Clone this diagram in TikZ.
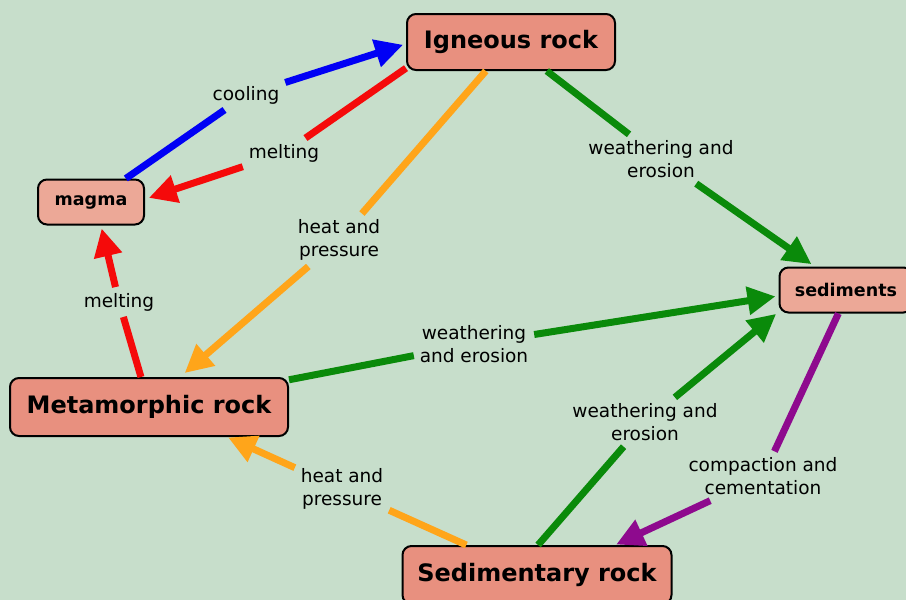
\documentclass[tikz,border=0pt]{standalone}
\usepackage{fontspec}
\setmainfont{DejaVu Sans}
\usetikzlibrary{arrows.meta}
\definecolor{bg}{HTML}{C7DECB}
\definecolor{boxA}{HTML}{E8907F}
\definecolor{boxB}{HTML}{ECA897}
\definecolor{cblue}{HTML}{0000F5}
\definecolor{cred}{HTML}{F50A0A}
\definecolor{corange}{HTML}{FFA51A}
\definecolor{cgreen}{HTML}{0A8A0A}
\definecolor{cpurple}{HTML}{8E0A8E}
\begin{document}
\begin{tikzpicture}[x=1pt,y=-1pt,
  rock/.style={draw=black, line width=2pt, rounded corners=9pt, fill=boxA, inner sep=0pt,
    font=\fontsize{24}{28}\selectfont\bfseries},
  smallrock/.style={rock, fill=boxB, font=\fontsize{17.5}{20}\selectfont\bfseries},
  seg/.style={line width=7pt},
  conn/.style={line width=7pt, -{Triangle[length=28pt,width=27pt]}},
  lbl/.style={inner sep=2pt, outer sep=4pt, align=center, font=\fontsize{18.5}{23}\selectfont}]
\fill[bg] (0,0) rectangle (906,600);
\useasboundingbox (0,0) rectangle (906,600);

\node[rock, minimum width=208pt, minimum height=56pt] (ign) at (511,42) {Igneous rock};
\node[smallrock, minimum width=106pt, minimum height=45pt] (magma) at (91,202) {magma};
\node[rock, minimum width=278pt, minimum height=58pt] (meta) at (149,407) {Metamorphic rock};
\node[rock, minimum width=269pt, minimum height=58pt] (sr) at (537,575) {Sedimentary rock};
\node[smallrock, minimum width=133pt, minimum height=45pt] (sed) at (846,290) {sediments};

\node[lbl] (l1) at (246,95) {cooling};
\node[lbl] (l2) at (284,153) {melting};
\node[lbl] (l3) at (339,240) {heat and\\pressure};
\node[lbl] (l4) at (661,159) {weathering and\\erosion};
\node[lbl] (l5) at (119,302) {melting};
\node[lbl] (l6) at (474,344) {weathering\\and erosion};
\node[lbl] (l7) at (645,422) {weathering and\\erosion};
\node[lbl] (l8) at (763,476) {compaction and\\cementation};
\node[lbl] (l9) at (342,489) {heat and\\pressure};

\draw[seg, cblue] (magma.34) -- (l1);
\draw[conn, cblue, shorten >=3pt] (l1) -- (ign.181);
\draw[seg, cred] (ign.194) -- (l2);
\draw[conn, cred, shorten >=4pt] (l2) -- (magma.3);
\draw[seg, corange] (ign.229) -- (l3);
\draw[conn, corange, shorten >=6pt] (l3) -- (meta.44);
\draw[seg, cgreen] (ign.321) -- (l4);
\draw[conn, cgreen, shorten >=4pt] (l4) -- (sed.143);
\draw[seg, cred] (meta.105) -- (l5);
\draw[conn, cred, shorten >=3pt] (l5) -- (magma.293);
\draw[seg, cgreen] (meta.11) -- (l6);
\draw[conn, cgreen, shorten >=3pt] (l6) -- (sed.185);
\draw[seg, cgreen] (sr.88) -- (l7);
\draw[conn, cgreen, shorten >=3pt] (l7) -- (sed.198);
\draw[seg, cpurple] (sed.252) -- (l8);
\draw[conn, cpurple, shorten >=1pt] (l8) -- (sr.21);
\draw[seg, corange] (sr.157) -- (l9);
\draw[conn, corange, shorten >=1pt] (l9) -- (meta.339);
\end{tikzpicture}
\end{document}
